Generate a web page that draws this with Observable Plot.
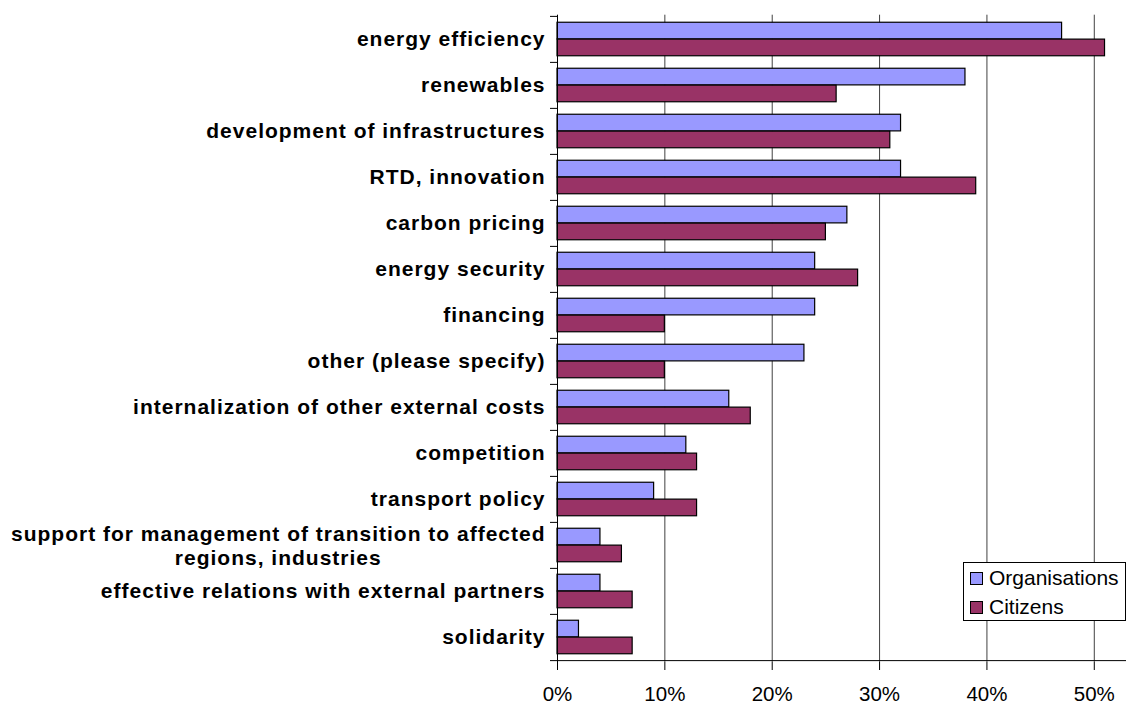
<!DOCTYPE html>
<html>
<head>
<meta charset="utf-8">
<script src="https://cdn.jsdelivr.net/npm/d3@7"></script>
<script src="https://cdn.jsdelivr.net/npm/@observablehq/plot@0.6"></script>
<style>
  html, body { margin: 0; padding: 0; background: #fff; }
  #wrap { position: relative; width: 1136px; height: 705px; font-family: "Liberation Sans", Arial, sans-serif; }
  #legend { position: absolute; left: 963px; top: 562px; width: 161px; height: 57px; border: 1px solid #000; background: #fff; }
  .item { position: absolute; left: 6px; height: 24px; display: flex; align-items: center; font-size: 21px; color: #000; }
  .sw { width: 11px; height: 11px; border: 1px solid #000; margin-right: 6px; }
</style>
</head>
<body>
<div id="wrap"></div>
<script>
const categories = [
  "energy efficiency",
  "renewables",
  "development of infrastructures",
  "RTD, innovation",
  "carbon pricing",
  "energy security",
  "financing",
  "other (please specify)",
  "internalization of other external costs",
  "competition",
  "transport policy",
  "support for management of transition to affected\nregions, industries",
  "effective relations with external partners",
  "solidarity"
];
const organisations = [47, 38, 32, 32, 27, 24, 24, 23, 16, 12, 9, 4, 4, 2];
const citizens      = [51, 26, 31, 39, 25, 28, 10, 10, 18, 13, 13, 6, 7, 7];
const xTicks = [0, 10, 20, 30, 40, 50];
const gridTicks = [10, 20, 30, 40, 50];
const seriesNames = ["Organisations", "Citizens"];
const seriesColors = ["#9999FF", "#993366"];

const W = 1136, H = 705;
const mTop = 14.7, mBottom = 43, mLeft = 557, mRight = 10;
const bw = (H - mTop - mBottom) / categories.length;
const pad = 0.135 * bw;
const labelSize = 21, labelSpacing = 1;

const rows = categories.map((c, i) => ({cat: c, org: organisations[i], cit: citizens[i]}));
const single = categories.filter(c => !c.includes("\n"));
const multi = categories.filter(c => c.includes("\n"));

const cv = document.createElement("canvas").getContext("2d");
cv.font = `bold ${labelSize}px 'Liberation Sans'`;
const multiWidth = multi.length
  ? Math.max(...multi[0].split("\n").map(s => cv.measureText(s).width + s.length * labelSpacing))
  : 0;

const chart = Plot.plot({
  width: W,
  height: H,
  marginTop: mTop,
  marginBottom: mBottom,
  marginLeft: mLeft,
  marginRight: mRight,
  style: {fontFamily: "'Liberation Sans', Arial, sans-serif", color: "#000", background: "#fff"},
  x: {domain: [0, 53]},
  y: {domain: categories, padding: 0, type: "band"},
  marks: [
    Plot.ruleX(gridTicks, {stroke: "#000", strokeWidth: 1, strokeOpacity: 0.75}),
    Plot.barX(rows, {x: "org", y: "cat", fill: seriesColors[0], stroke: "#000", strokeWidth: 1.2, insetTop: pad, insetBottom: bw / 2}),
    Plot.barX(rows, {x: "cit", y: "cat", fill: seriesColors[1], stroke: "#000", strokeWidth: 1.2, insetTop: bw / 2, insetBottom: pad}),
    Plot.ruleX([0], {stroke: "#000", strokeWidth: 1}),
    Plot.ruleY([categories[categories.length - 1]], {stroke: "#000", strokeWidth: 1, dy: bw / 2}),
    Plot.axisY({tickSize: 7, tickFormat: () => "", label: null, dy: -bw / 2, stroke: "#000"}),
    Plot.axisY([categories[categories.length - 1]], {tickSize: 7, tickFormat: () => "", label: null, dy: bw / 2, stroke: "#000"}),
    Plot.axisX(xTicks, {tickSize: 8, tickPadding: 16, fontSize: 20.5, tickFormat: d => d + "%", label: null, stroke: "#000"}),
    Plot.text(single, {y: d => d, text: d => d, frameAnchor: "left", textAnchor: "end", dx: -12, fontSize: labelSize, fontWeight: "bold", fill: "#000"}),
    Plot.text(multi, {y: d => d, text: d => d, frameAnchor: "left", textAnchor: "middle", dx: -12 - multiWidth / 2, fontSize: labelSize, fontWeight: "bold", lineHeight: 1.13, fill: "#000"})
  ]
});

chart.querySelectorAll('g[aria-label="text"] text').forEach(t => {
  t.style.letterSpacing = labelSpacing + "px";
});

const wrap = document.getElementById("wrap");
wrap.appendChild(chart);

const legend = document.createElement("div");
legend.id = "legend";
seriesNames.forEach((name, i) => {
  const item = document.createElement("div");
  item.className = "item";
  item.style.top = (3 + i * 29) + "px";
  const sw = document.createElement("div");
  sw.className = "sw";
  sw.style.background = seriesColors[i];
  const t = document.createElement("span");
  t.textContent = name;
  item.appendChild(sw);
  item.appendChild(t);
  legend.appendChild(item);
});
wrap.appendChild(legend);
</script>
</body>
</html>
